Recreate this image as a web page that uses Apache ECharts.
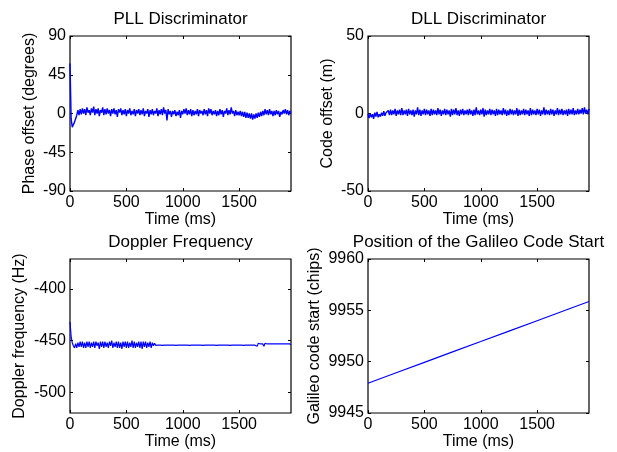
<!DOCTYPE html>
<html>
<head>
<meta charset="utf-8">
<script src="https://cdn.jsdelivr.net/npm/echarts@6/dist/echarts.min.js"></script>
<style>html,body{margin:0;padding:0;background:#fff}#c{width:617px;height:452px}</style>
</head>
<body>
<div id="c"></div>
<script>
// ---- data ----
const SAMPLE_MS = 10;          // time between tracking samples (ms)
const X_MAX = 1960;
const xTicks = [0, 500, 1000, 1500];

const titles = ['PLL Discriminator', 'DLL Discriminator', 'Doppler Frequency', 'Position of the Galileo Code Start'];
const yNames = ['Phase offset (degrees)', 'Code offset (m)', 'Doppler frequency (Hz)', 'Galileo code start (chips)'];
const xName = 'Time (ms)';

const pllTicks = [-90, -45, 0, 45, 90];
const dllTicks = [-50, 0, 50];
const dopTicks = [-500, -450, -400];
const galTicks = [9945, 9950, 9955, 9960];

// PLL phase offset (degrees), one value per 10 ms
const pllValues = [
  58, -6, -16, -15, -10, -6, -2, 4, -2, 5,
  -1, 6, 0, 5, -2, 7, 1, 4, -2, 6,
  1, 8, -2, 5, 0, 6, -3, 4, 1, 7,
  -2, 5, -1, 6, 0, 4, -3, 5, 0, 6,
  -1, 4, -4, 5, 1, 6, -2, 4, -1, 5,
  -3, 4, 0, 6, -2, 3, -1, 5, -3, 4,
  0, 5, -2, 4, -1, 6, -3, 3, 0, 5,
  -4, 4, -1, 5, -2, 3, 0, 6, -3, 4,
  -1, 5, -2, 7, 0, 4, -8, 5, -1, 3,
  -4, 3, -1, 4, -3, 2, -2, 4, -5, 3,
  -1, 5, 0, 6, -2, 4, -1, 5, -3, 4,
  -2, 3, -1, 5, -3, 4, 0, 3, -2, 5,
  -1, 4, -3, 6, 0, 5, -2, 3, -1, 4,
  -3, 3, -2, 5, -1, 4, -4, 3, 0, 6,
  -2, 4, -1, 7, 0, 3, -3, 4, -2, 2,
  -2, 3, -3, 2, -4, 2, -5, 1, -5, 0,
  -6, 0, -7, -1, -6, 0, -5, 1, -4, 2,
  -3, 3, -2, 5, -1, 4, -2, 5, -1, 3,
  -3, 3, -2, 4, -1, 3, -4, 2, -1, 4,
  0, 5, -1, 4, -2, 3, 1
];

// DLL code offset (m), one value per 10 ms
const dllValues = [
  -0.5, -3.0, 0.0, -2.5, -0.5, -3.5, 0.5, -2.0, 1.0, -2.5,
  -0.5, -2.0, 0.5, -1.5, 1.5, -1.5, 0.5, -0.5, 2.0, -1.0,
  2.5, -1.0, 2.0, -0.5, 3.0, -1.5, 2.0, -0.5, 2.5, -1.0,
  3.5, -1.0, 2.0, -0.5, 2.5, -1.5, 3.0, -0.5, 2.0, -1.0,
  2.5, -2.0, 2.0, -0.5, 4.0, -1.0, 2.5, -1.5, 2.0, -0.5,
  3.0, -1.0, 2.5, -0.5, 2.0, -1.5, 3.0, -1.0, 2.5, -0.5,
  2.0, -1.0, 3.5, -0.5, 2.5, -1.5, 2.0, -0.5, 3.0, -1.0,
  2.5, -0.5, 2.0, -2.0, 3.0, -1.0, 2.5, -0.5, 3.5, -1.0,
  2.0, -1.5, 2.5, -0.5, 3.0, -1.0, 2.0, -0.5, 2.5, -1.0,
  3.0, -0.5, 2.0, -1.5, 2.5, -1.0, 4.0, -0.5, 2.0, -1.0,
  2.5, -0.5, 3.5, -2.0, 2.5, -1.0, 2.0, -0.5, 3.0, -1.0,
  2.5, -0.5, 2.0, -1.5, 3.0, -1.0, 2.5, -0.5, 2.0, -1.0,
  3.5, -0.5, 2.5, -1.5, 2.0, -1.0, 3.0, -0.5, 2.5, -1.0,
  2.0, -0.5, 3.5, -1.5, 2.5, -1.0, 2.0, -0.5, 3.0, -1.0,
  2.5, -0.5, 2.0, -1.5, 3.5, -1.0, 2.5, -0.5, 2.0, -1.0,
  3.0, -0.5, 2.5, -1.5, 2.0, -0.5, 4.0, -1.0, 2.5, -0.5,
  2.0, -1.0, 3.0, -0.5, 2.5, -1.5, 2.0, -0.5, 3.5, -1.0,
  2.5, -0.5, 3.0, -1.0, 2.0, -0.5, 2.5, -1.5, 3.0, -0.5,
  2.5, -0.5, 3.5, -1.0, 2.0, -0.5, 3.0, -0.5, 2.5, 0.0,
  3.5, -0.5, 4.0, 0.0, 2.5, -0.5, 3.0
];

// Doppler frequency (Hz), one value per 10 ms
const dopplerValues = [
  -432, -446, -452, -455, -457, -453, -457, -452, -456, -451,
  -456, -451, -457, -452, -457, -451, -456, -451, -457, -452,
  -456, -451, -457, -451, -455, -452, -458, -451, -456, -451,
  -457, -451, -456, -452, -457, -451, -455, -450, -457, -452,
  -456, -451, -457, -451, -457, -452, -458, -451, -456, -451,
  -457, -451, -457, -452, -456, -450, -457, -451, -457, -452,
  -456, -451, -457, -451, -458, -451, -456, -451, -457, -452,
  -456, -451, -457, -452, -455, -452.5, -454.5, -453, -454.4, -453.2,
  -454.4, -453.2, -454.6, -453.2, -454.4, -453, -454.4, -453.2, -454.4, -453.2,
  -454.4, -453.2, -454.4, -453.2, -454.6, -453.2, -454.4, -453.2, -454.4, -453,
  -454.4, -453.2, -454.4, -453.2, -454.4, -453.2, -454.6, -453.2, -454.4, -453.2,
  -454.4, -453, -454.4, -453.2, -454.4, -453.2, -454.4, -453.2, -454.6, -453.2,
  -454.4, -453.2, -454.4, -453, -454.4, -453.2, -454.4, -453.2, -454.4, -453.2,
  -454.6, -453.2, -454.4, -453.2, -454.4, -453, -454.4, -453.2, -454.4, -453.2,
  -454.4, -453.2, -454.6, -453.2, -454.4, -453.2, -454.4, -453, -454.4, -453.2,
  -454.4, -453.2, -454.4, -453.2, -454.6, -453.2, -454.4, -453.2, -454.4, -453.2,
  -454.4, -453, -454.4, -453.2, -454.4, -453.2, -455.5, -452.5, -454.4, -453.2,
  -454.6, -453.2, -455.5, -452.5, -454.4, -453.2, -454.4, -453.2, -454.4, -453.2,
  -454.4, -453.2, -454.6, -453.2, -454.4, -453, -454.4, -453.2, -454.4, -453.2,
  -454.4, -453.2, -454.4, -453.2, -454.6, -453.2, -454
];

// Galileo code start (chips)
const galTimes = [0, 250, 500, 750, 1000, 1250, 1500, 1750, 1960];
const galValues = [9947.90, 9948.92, 9949.93, 9950.95, 9951.96, 9952.98, 9953.99, 9955.01, 9955.86];

// ---- chart ----
const FONT = 'Liberation Sans, Arial, Helvetica, sans-serif';
const BLUE = '#0000ff';
const grids = [
  {left: 70, top: 36, width: 221, height: 155},
  {left: 368, top: 36, width: 221, height: 155},
  {left: 70, top: 259, width: 221, height: 154},
  {left: 368, top: 259, width: 221, height: 154}
];
const yRanges = [[-90, 90], [-50, 50], [-520, -371], [9945, 9960]];
const yTickSets = [pllTicks, dllTicks, dopTicks, galTicks];
const yGaps = [32, 32, 42, 45];
const lineWidths = [1.4, 1.4, 1.2, 1.2];

function timed(values) {
  return values.map((v, i) => [i * SAMPLE_MS, v]);
}
const seriesData = [
  timed(pllValues),
  timed(dllValues),
  timed(dopplerValues),
  galTimes.map((t, i) => [t, galValues[i]])
];

const txt = {color: '#000', fontFamily: FONT, fontSize: 16};
const xAxis = [], yAxis = [], series = [], title = [];

grids.forEach((g, i) => {
  const common = {
    type: 'value', gridIndex: i, splitLine: {show: false},
    axisLine: {show: false, onZero: false}
  };
  xAxis.push(Object.assign({}, common, {
    position: 'bottom', min: 0, max: X_MAX,
    name: xName, nameLocation: 'middle', nameGap: 21, nameTextStyle: Object.assign({}, txt),
    axisTick: {inside: true, length: 3, customValues: xTicks, lineStyle: {color: '#000'}},
    axisLabel: Object.assign({margin: 4, customValues: xTicks, formatter: v => String(v)}, txt)
  }));
  xAxis.push(Object.assign({}, common, {
    position: 'top', min: 0, max: X_MAX,
    axisTick: {inside: true, length: 3, customValues: xTicks, lineStyle: {color: '#000'}},
    axisLabel: {show: false}
  }));
  const yr = yRanges[i];
  yAxis.push(Object.assign({}, common, {
    position: 'left', min: yr[0], max: yr[1],
    name: yNames[i], nameLocation: 'middle', nameGap: yGaps[i], nameRotate: 90,
    nameTextStyle: Object.assign({}, txt),
    axisTick: {inside: true, length: 3, customValues: yTickSets[i], lineStyle: {color: '#000'}},
    axisLabel: Object.assign({margin: 4, customValues: yTickSets[i], formatter: v => String(v)}, txt)
  }));
  yAxis.push(Object.assign({}, common, {
    position: 'right', min: yr[0], max: yr[1],
    axisTick: {inside: true, length: 3, customValues: yTickSets[i], lineStyle: {color: '#000'}},
    axisLabel: {show: false}
  }));
  series.push({
    type: 'line', xAxisIndex: i * 2, yAxisIndex: i * 2, data: seriesData[i],
    showSymbol: false, symbol: 'none', animation: false, silent: true,
    lineStyle: {color: BLUE, width: lineWidths[i]}, itemStyle: {color: BLUE}
  });
  title.push({
    text: titles[i], left: g.left + g.width / 2, textAlign: 'center',
    top: i < 2 ? 11 : 234, padding: 0,
    textStyle: {color: '#000', fontFamily: FONT, fontSize: 17, fontWeight: 'normal'}
  });
});

const chart = echarts.init(document.getElementById('c'), null, {renderer: 'canvas'});
chart.setOption({
  backgroundColor: '#fff',
  animation: false,
  title: title,
  grid: grids.map(g => Object.assign({show: true, borderColor: '#000', borderWidth: 1.2, backgroundColor: 'transparent', containLabel: false}, g)),
  xAxis: xAxis,
  yAxis: yAxis,
  series: series
});
</script>
</body>
</html>
